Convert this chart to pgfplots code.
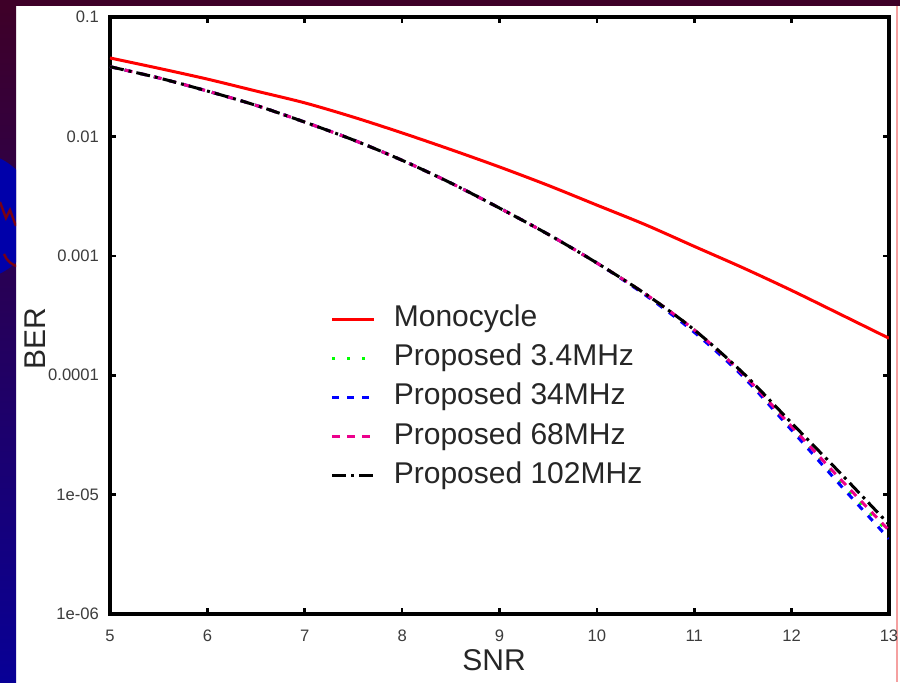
\documentclass[border=0pt]{standalone}
\usepackage{fontspec}
\setmainfont{Liberation Sans}
\usepackage{pgfplots}
\pgfplotsset{compat=1.18}

\definecolor{slidemaroon}{RGB}{62,0,40}
\definecolor{slideblue}{RGB}{8,0,150}
\definecolor{logoblue}{RGB}{0,0,170}
\definecolor{logored}{RGB}{120,0,20}
\definecolor{edgepink}{RGB}{245,160,160}
\definecolor{ticktext}{RGB}{60,60,60}

\begin{document}
\begin{tikzpicture}
  % slide frame
  \path[use as bounding box] (0pt,0pt) rectangle (450pt,341pt);
  \fill[white] (0pt,0pt) rectangle (450pt,341pt);
  \fill[slidemaroon] (0pt,338pt) rectangle (450pt,341pt);
  \shade[top color=slidemaroon, bottom color=slideblue] (0pt,0pt) rectangle (8pt,338pt);
  \begin{scope}
    \clip (0pt,0pt) rectangle (8pt,338pt);
    \fill[logoblue] (-14pt,233pt) circle (32pt);
    \draw[logored, line width=1.2pt] (0pt,240pt) -- (3pt,232pt) -- (5pt,236pt) -- (8pt,228pt);
    \draw[logored, line width=1.2pt] (2pt,214pt) arc (200:260:10pt);
  \end{scope}
  \draw[edgepink, line width=1.2pt] (448.6pt,0pt) -- (448.6pt,338pt);

  \begin{axis}[
    at={(55pt,34pt)}, anchor=south west,
    scale only axis, width=389.5pt, height=298.5pt,
    ymode=log,
    xmin=5, xmax=13, ymin=1e-6, ymax=0.1,
    xtick={5,6,...,13},
    ytick={1e-6,1e-5,1e-4,1e-3,1e-2,1e-1},
    yticklabels={1e-06,1e-05,0.0001,0.001,0.01,0.1},
    minor ytick={}, yminorticks=false,
    tick align=inside, major tick length=3pt,
    tick style={black, line width=1.3pt},
    axis line style={black, line width=1.8pt},
    /pgf/number format/assume math mode=true,
    ticklabel style={font=\fontsize{8.3}{9}\selectfont, text=ticktext},
    xticklabel style={yshift=-4.5pt},
    yticklabel style={xshift=-2pt},
    xlabel={SNR}, ylabel={BER},
    label style={font=\fontsize{15}{18}\selectfont, text=black!85},
    xlabel style={at={(axis description cs:0.493,-0.078)}, anchor=center},
    ylabel style={at={(axis description cs:-0.0963,0.462)}, anchor=center},
    legend cell align=left,
    legend style={
      at={(rel axis cs:0.283,0.519)}, anchor=north west,
      draw=none, fill=none, inner sep=0pt,
      font=\fontsize{15}{18}\selectfont, text=black!85,
      row sep=5.1pt,
      nodes={inner sep=0pt, text height=11pt, text depth=3.5pt}},
    legend image code/.code={
      \draw[#1] (0pt,0pt) -- (21pt,0pt);
      \path (30pt,0pt);},
  ]
    \addplot[red, line width=1.5pt, smooth] coordinates {
      (5,0.0454) (5.5,0.0372) (6,0.0302) (6.5,0.0240) (7,0.0191)
      (7.5,0.0145) (8,0.0107) (8.5,0.00776) (9,0.00555) (9.5,0.00389)
      (10,0.00266) (10.5,0.00182) (11,0.00120) (11.5,7.94e-4)
      (12,5.13e-4) (12.5,3.24e-4) (13,2.04e-4)};
    \addlegendentry{Monocycle}

    \addplot[green, line width=1.5pt, smooth, dash pattern=on 1.5pt off 6pt] coordinates {
      (5,0.03837) (5.5,0.03090) (6,0.02399) (6.5,0.01820) (7,0.01318)
      (7.5,0.009333) (8,0.006310) (8.5,0.004074) (9,0.002512) (9.5,0.001514)
      (10,8.710e-4) (10.5,4.786e-4) (11,2.399e-4) (11.5,1.023e-4)
      (12,3.631e-5) (12.5,1.288e-5) (13,4.786e-6)};
    \addlegendentry{Proposed 3.4MHz}

    \addplot[blue, line width=1.5pt, smooth, dash pattern=on 3.5pt off 4pt] coordinates {
      (5,0.03837) (5.5,0.03090) (6,0.02399) (6.5,0.01820) (7,0.01318)
      (7.5,0.009333) (8,0.006310) (8.5,0.004074) (9,0.002512) (9.5,0.001514)
      (10,8.710e-4) (10.5,4.677e-4) (11,2.291e-4) (11.5,9.772e-5)
      (12,3.467e-5) (12.5,1.202e-5) (13,4.266e-6)};
    \addlegendentry{Proposed 34MHz}

    \addplot[magenta, line width=1.5pt, smooth, dash pattern=on 4pt off 3.5pt] coordinates {
      (5,0.03837) (5.5,0.03090) (6,0.02399) (6.5,0.01820) (7,0.01318)
      (7.5,0.009333) (8,0.006310) (8.5,0.004074) (9,0.002512) (9.5,0.001514)
      (10,8.710e-4) (10.5,4.786e-4) (11,2.399e-4) (11.5,1.023e-4)
      (12,3.715e-5) (12.5,1.349e-5) (13,5.012e-6)};
    \addlegendentry{Proposed 68MHz}

    \addplot[black, line width=1.5pt, smooth, dash pattern=on 7pt off 2.5pt on 1.5pt off 2.5pt] coordinates {
      (5,0.03837) (5.5,0.03090) (6,0.02399) (6.5,0.01820) (7,0.01318)
      (7.5,0.009333) (8,0.006310) (8.5,0.004074) (9,0.002512) (9.5,0.001514)
      (10,8.710e-4) (10.5,4.786e-4) (11,2.399e-4) (11.5,1.047e-4)
      (12,3.981e-5) (12.5,1.514e-5) (13,5.623e-6)};
    \addlegendentry{Proposed 102MHz}
  \end{axis}
\end{tikzpicture}
\end{document}
